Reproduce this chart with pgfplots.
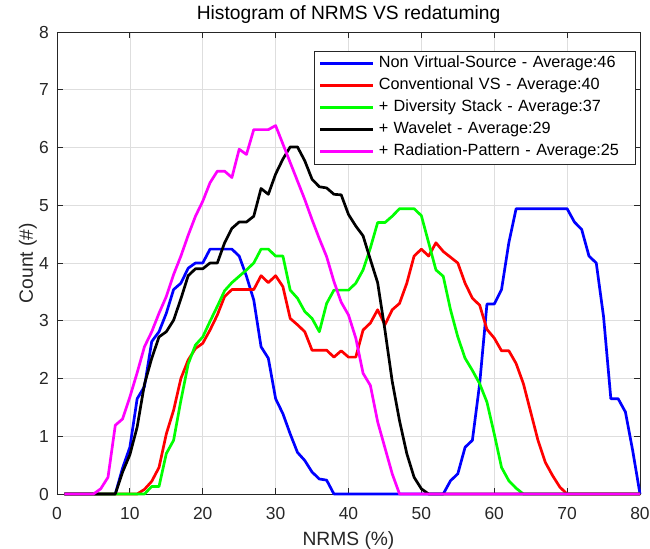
\documentclass[border=0pt]{standalone}
\usepackage{fontspec}
\setmainfont{Liberation Sans}
\usepackage{pgfplots}
\usepackage{pgfplotstable}
\pgfplotsset{compat=1.18}
\definecolor{axgray}{rgb}{0.15,0.15,0.15}
\definecolor{gridgray}{rgb}{0.87,0.87,0.87}
\definecolor{mblue}{rgb}{0,0,1}
\definecolor{mred}{rgb}{1,0,0}
\definecolor{mgreen}{rgb}{0,1,0}
\definecolor{mmag}{rgb}{1,0,1}
\pgfplotstableread{
x  B     R     G     K     M
1  0     0     0     0     0
2  0     0     0     0     0
3  0     0     0     0     0
4  0     0     0     0     0
5  0     0     0     0     0
6  0     0     0     0     0.09
7  0     0     0     0     0.29
8  0     0     0     0     1.19
9  0.45  0     0     0.38  1.30
10 0.81  0     0     0.68  1.68
11 1.65  0     0     1.16  2.10
12 1.86  0.08  0     1.90  2.55
13 2.64  0.22  0.13  2.35  2.81
14 2.81  0.46  0.13  2.72  3.13
15 3.13  1.04  0.70  2.81  3.42
16 3.54  1.45  0.93  3.01  3.80
17 3.65  2.00  1.62  3.38  4.12
18 3.91  2.32  2.25  3.78  4.48
19 4.00  2.52  2.58  3.90  4.81
20 4.00  2.61  2.72  3.90  5.07
21 4.24  2.84  2.99  4.00  5.39
22 4.24  3.10  3.25  4.00  5.59
23 4.24  3.42  3.52  4.35  5.59
24 4.24  3.54  3.66  4.60  5.48
25 4.12  3.54  3.77  4.71  5.97
26 3.77  3.54  3.88  4.71  5.88
27 3.36  3.54  4.00  4.81  6.31
28 2.55  3.78  4.24  5.29  6.31
29 2.35  3.66  4.24  5.19  6.31
30 1.65  3.78  4.12  5.54  6.38
31 1.39  3.59  4.12  5.80  6.06
32 1.04  3.04  3.53  6.01  5.74
33 0.72  2.93  3.39  6.01  5.42
34 0.58  2.81  3.16  5.77  5.10
35 0.38  2.49  3.04  5.45  4.75
36 0.26  2.49  2.81  5.32  4.42
37 0.24  2.49  3.30  5.30  4.11
38 0     2.37  3.53  5.19  3.68
39 0     2.48  3.53  5.18  3.32
40 0     2.37  3.53  4.84  3.10
41 0     2.37  3.65  4.64  2.70
42 0     2.84  3.88  4.47  2.09
43 0     2.96  4.26  4.06  1.88
44 0     3.19  4.70  3.66  1.25
45 0     2.93  4.70  2.84  0.80
46 0     3.19  4.81  1.95  0.35
47 0     3.30  4.94  1.27  0
48 0     3.65  4.94  0.70  0
49 0     4.12  4.94  0.29  0
50 0     4.24  4.82  0.09  0
51 0     4.12  4.35  0     0
52 0     4.35  3.88  0     0
53 0     4.20  3.77  0     0
54 0.23  4.10  3.19  0     0
55 0.35  4.00  2.72  0     0
56 0.81  3.65  2.35  0     0
57 0.93  3.39  2.14  0     0
58 1.91  3.27  1.91  0     0
59 3.29  2.85  1.59  0     0
60 3.29  2.70  1.04  0     0
61 3.54  2.48  0.46  0     0
62 4.35  2.48  0.23  0     0
63 4.94  2.26  0.10  0     0
64 4.94  1.91  0     0     0
65 4.94  1.42  0     0     0
66 4.94  0.93  0     0     0
67 4.94  0.55  0     0     0
68 4.94  0.32  0     0     0
69 4.94  0.12  0     0     0
70 4.94  0     0     0     0
71 4.71  0     0     0     0
72 4.58  0     0     0     0
73 4.12  0     0     0     0
74 4.00  0     0     0     0
75 3.07  0     0     0     0
76 1.65  0     0     0     0
77 1.65  0     0     0     0
78 1.42  0     0     0     0
79 0.75  0     0     0     0
80 0     0     0     0     0
}\datatable
\begin{document}
\begin{tikzpicture}
\useasboundingbox (-57bp,-55bp) rectangle (593bp,494bp);
\begin{axis}[
  at={(0,0)}, anchor=south west,
  scale only axis, width=583bp, height=462bp,
  xmin=0, xmax=80, ymin=0, ymax=8,
  xtick={0,10,...,80}, ytick={0,1,...,8},
  clip=false,
  tick pos=both, tick align=inside,
  major tick length=6bp,
  grid=major,
  major grid style={draw=gridgray, line width=0.6bp},
  axis line style={draw=axgray, line width=0.75bp},
  every tick/.style={draw=axgray, line width=0.75bp},
  /pgf/number format/assume math mode=true,
  tick label style={font=\fontsize{17.5}{17.5}\selectfont, text=axgray},
  xticklabel style={anchor=base, yshift=-25bp, inner sep=0pt},
  yticklabel style={anchor=east, inner sep=0pt, xshift=-8bp},
  title={Histogram of NRMS VS redatuming},
  title style={at={(axis description cs:0.5,1.01515)}, anchor=base, font=\fontsize{19.3}{19.3}\selectfont, inner sep=0pt},
  xlabel={NRMS (\%)},
  xlabel style={at={(axis description cs:0.5,-0.1104)}, anchor=base, font=\fontsize{19.3}{19.3}\selectfont, text=axgray, inner sep=0pt},
  ylabel={Count (\#)},
  ylabel style={at={(axis description cs:-0.0412,0.5)}, anchor=base, font=\fontsize{19.3}{19.3}\selectfont, text=axgray, inner sep=0pt},
  legend image code/.code={\draw[#1, line width=2.7bp] (0bp,0bp) -- (53bp,0bp);},
  legend cell align=left,
  legend style={at={(axis description cs:0.9914,0.9589)}, anchor=north east,
    draw=axgray, fill=white,
    font=\fontsize{16.3}{16.3}\selectfont,
    inner xsep=5bp, inner ysep=1.5bp, row sep=0bp,
    nodes={text height=12bp, text depth=4bp, inner ysep=3bp, inner xsep=0bp, text width=251bp, align=left},
    /tikz/every odd column/.append style={column sep=4bp}},
  every axis plot/.append style={line width=2.7bp, line join=round},
]
\addplot[mblue] table[x=x, y=B] {\datatable};
\addlegendentry{Non Virtual-Source - Average:46}
\addplot[mred] table[x=x, y=R] {\datatable};
\addlegendentry{Conventional VS - Average:40}
\addplot[mgreen] table[x=x, y=G] {\datatable};
\addlegendentry{+ Diversity Stack - Average:37}
\addplot[black] table[x=x, y=K] {\datatable};
\addlegendentry{+ Wavelet - Average:29}
\addplot[mmag] table[x=x, y=M] {\datatable};
\addlegendentry{+ Radiation-Pattern - Average:25}
\end{axis}
\end{tikzpicture}
\end{document}
